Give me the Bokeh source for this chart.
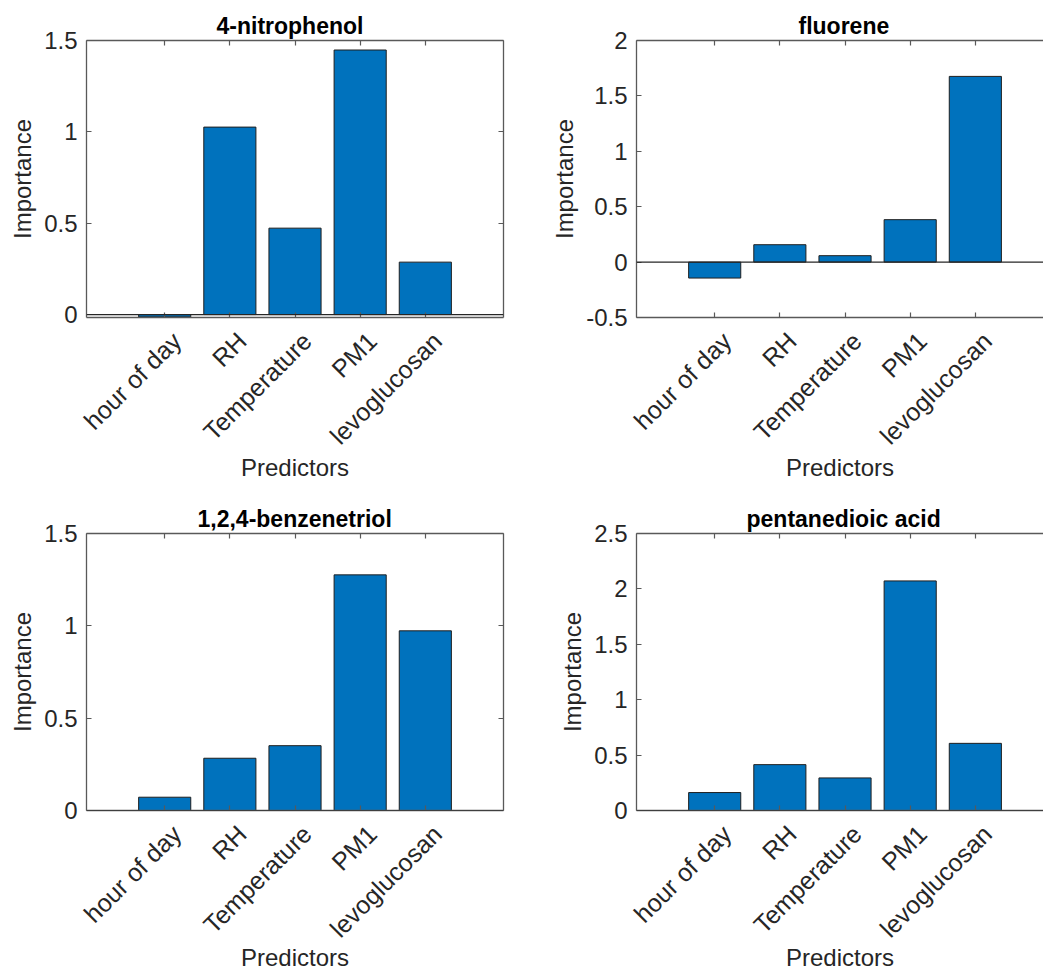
from bokeh.plotting import figure
from bokeh.layouts import column, row
from bokeh.models import (FixedTicker, LinearAxis, NumeralTickFormatter, Span,
                          Range1d, ColumnDataSource)
from bokeh.embed import file_html
from bokeh.resources import INLINE

# Predictor importance per compound
predictors = ["hour of day", "RH", "Temperature", "PM1", "levoglucosan"]
nitrophenol = [-0.013, 1.026, 0.473, 1.448, 0.287]
fluorene = [-0.144, 0.157, 0.058, 0.383, 1.676]
benzenetriol = [0.072, 0.283, 0.351, 1.276, 0.973]
pentanedioic_acid = [0.162, 0.414, 0.294, 2.072, 0.606]

titles = ["4-nitrophenol", "fluorene", "1,2,4-benzenetriol", "pentanedioic acid"]
title_offsets = [130, 162, 111, 110]   # px from the frame's left edge
y_limits = [(-0.016, 1.5), (-0.5, 2.0), (0.0, 1.5), (0.0, 2.5)]
y_ticks = [[0, 0.5, 1, 1.5], [-0.5, 0, 0.5, 1, 1.5, 2], [0, 0.5, 1, 1.5],
           [0, 0.5, 1, 1.5, 2, 2.5]]

FONT = "Liberation Sans"
TEXT = "#262626"
AXIS = "#595959"
BAR = "#0072BD"
TICK_PX = 24
NAME_PX = 25
PX_PER_X = 65.16
LABEL_SHIFT = 12 / PX_PER_X   # rotated names sit a little right of their tick


def style_axis(ax, ticker, show_labels=True):
    ax.ticker = ticker
    ax.axis_line_color = AXIS
    ax.axis_line_width = 1.3
    ax.major_tick_line_color = AXIS
    ax.major_tick_line_width = 1.2
    ax.major_tick_in = 5
    ax.major_tick_out = 0
    ax.minor_tick_line_color = None
    ax.major_label_text_font = FONT
    ax.major_label_text_color = TEXT
    ax.major_label_text_font_size = f"{TICK_PX}px"
    ax.axis_label_text_font = FONT
    ax.axis_label_text_color = TEXT
    ax.axis_label_text_font_size = "24px"
    ax.axis_label_text_font_style = "normal"
    if not show_labels:
        ax.major_label_text_color = None
        ax.major_label_text_font_size = "1px"
        ax.major_label_standoff = 0


def panel(title, t_off, values, ylim, yt, left_col, top_row):
    x_idx = list(range(1, len(predictors) + 1))
    src = ColumnDataSource(dict(x=x_idx, top=values))
    if left_col:
        width, b_left, b_right, x_end = 505, 86, 2, 6.2
    else:
        width, b_left, b_right, x_end = 538, 131, 0, 6.046
    if top_row:
        height, b_top, b_bottom, name_gap = 490, 40, 173, -8
    else:
        height, b_top, b_bottom, name_gap = 485, 43, 165, -11

    p = figure(width=width, height=height, output_backend="svg",
               toolbar_location=None, x_range=Range1d(-0.2, x_end),
               y_range=Range1d(*ylim), min_border_left=b_left,
               min_border_right=b_right, min_border_top=b_top,
               min_border_bottom=b_bottom, title=title)
    p.outline_line_color = None
    p.grid.visible = False
    p.background_fill_color = "white"
    p.border_fill_color = "white"

    p.title.text_font = FONT
    p.title.text_font_size = "23px"
    p.title.text_font_style = "bold"
    p.title.text_color = "black"
    p.title.align = "left"
    p.title.offset = t_off
    p.title.standoff = 4

    p.vbar(x="x", top="top", bottom=0, width=0.8, source=src,
           fill_color=BAR, line_color="#1f1f1f", line_width=1)
    p.add_layout(Span(location=0, dimension="width", line_color="#262626",
                      line_width=1.2))

    xt = FixedTicker(ticks=x_idx)
    yt_ = FixedTicker(ticks=yt)

    # bottom axis: inward ticks only
    style_axis(p.xaxis[0], xt, show_labels=False)

    # second bottom axis carrying the rotated category names
    p.extra_x_ranges = {"names": Range1d(-0.2 - LABEL_SHIFT, x_end - LABEL_SHIFT)}
    names_ax = LinearAxis(x_range_name="names")
    style_axis(names_ax, xt)
    names_ax.major_label_text_font_size = f"{NAME_PX}px"
    names_ax.axis_line_color = None
    names_ax.major_tick_in = 0
    names_ax.major_tick_out = 0
    names_ax.major_label_overrides = {i: n for i, n in zip(x_idx, predictors)}
    names_ax.major_label_orientation = 0.785398
    names_ax.major_label_standoff = 19
    names_ax.axis_label = "Predictors"
    names_ax.axis_label_standoff = name_gap
    p.add_layout(names_ax, "below")

    style_axis(p.yaxis[0], yt_)
    p.yaxis[0].formatter = NumeralTickFormatter(format="0.[0]")
    p.yaxis[0].axis_label = "Importance"
    p.yaxis[0].axis_label_standoff = 5
    p.yaxis[0].major_label_standoff = 9

    top_ax = LinearAxis()
    style_axis(top_ax, xt, show_labels=False)
    p.add_layout(top_ax, "above")
    if left_col:
        right_ax = LinearAxis()
        style_axis(right_ax, yt_, show_labels=False)
        p.add_layout(right_ax, "right")
    return p


series = [nitrophenol, fluorene, benzenetriol, pentanedioic_acid]
plots = [panel(titles[i], title_offsets[i], series[i], y_limits[i], y_ticks[i],
               left_col=(i % 2 == 0), top_row=(i < 2)) for i in range(4)]

layout = column(row(plots[0], plots[1], spacing=0),
                row(plots[2], plots[3], spacing=0), spacing=0)

with open("out.html", "w") as f:
    f.write(file_html(layout, INLINE))
